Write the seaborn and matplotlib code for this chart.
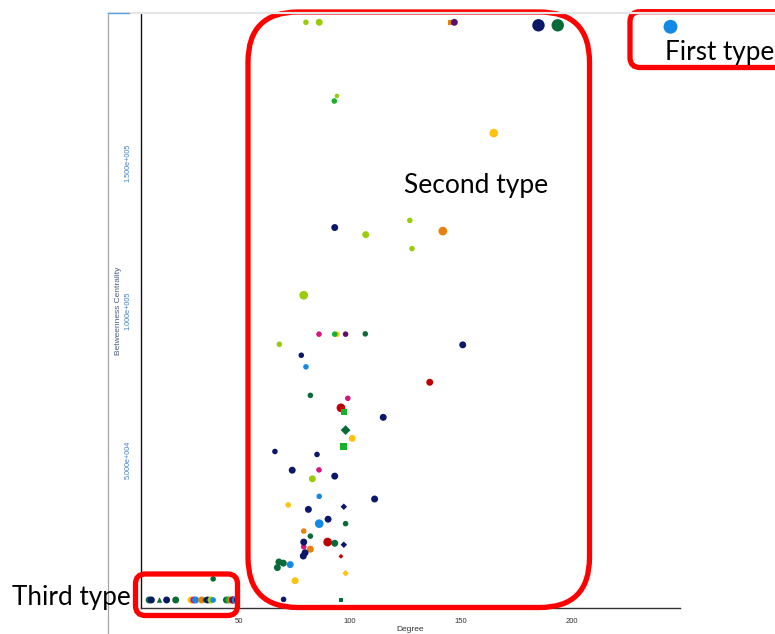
import matplotlib
matplotlib.use("Agg")
import matplotlib.pyplot as plt
from matplotlib.patches import FancyBboxPatch
from matplotlib.ticker import FixedLocator, FuncFormatter
import seaborn as sns
import pandas as pd

# ---- node data: degree, betweenness centrality, community colour, marker shape, node weight
degree = [
    244.7,
    80.1, 86.1, 145.3, 147.1, 185.1, 193.8,
    94.1, 92.9, 164.9,
    93.1, 107.1, 127.0, 141.9, 128.0, 79.1,
    86.0, 94.1, 93.1, 98.0, 106.9, 68.1, 150.9, 78.0, 80.1, 136.0,
    82.1, 99.0, 95.9, 97.2, 115.0, 98.0, 101.0, 97.0, 66.1, 85.1,
    73.9, 86.0, 83.0, 93.1, 86.1, 72.1, 97.2, 111.1, 81.2, 90.1,
    86.1, 98.0, 79.1, 82.1, 79.1, 79.1, 89.9, 93.1, 97.2, 82.1,
    79.7, 78.9, 95.9, 67.9, 69.9, 67.2, 73.0, 75.2, 98.0, 70.0, 95.9,
    9.3, 10.3, 14.0, 17.2, 21.3, 28.2, 29.4, 30.3, 33.0, 34.8, 35.7,
    37.2, 38.2, 38.2, 44.2, 45.3, 46.3, 46.9, 47.4, 48.2, 48.8,
]
betweenness = [
    195700,
    197200, 197200, 197200, 197200, 196200, 196200,
    172400, 170700, 159900,
    128100, 125700, 130500, 126900, 121000, 105300,
    92200, 92200, 92200, 92200, 92300, 88800, 88600, 85100, 81200, 76000,
    71600, 70600, 67400, 65900, 64200, 59900, 57100, 54300, 52700, 51700,
    46400, 46500, 43500, 44400, 37600, 34700, 34100, 36700, 33200, 29900,
    28400, 28400, 25900, 24200, 20600, 22200, 22200, 21800, 21300, 19800,
    18600, 17500, 17400, 15500, 15100, 13600, 14600, 9200, 11700, 2900, 2700,
    2700, 2700, 2700, 2700, 2700, 2700, 2700, 2700, 2700, 2700, 2700,
    2700, 2700, 9800, 2700, 2700, 2700, 2700, 2700, 2700, 2700,
]
community = [
    "blue",
    "lime", "lime", "orange", "purple", "navy", "dkgreen",
    "lime", "green", "yellow",
    "navy", "lime", "lime", "orange", "lime", "lime",
    "magenta", "yellow", "green", "purple", "dkgreen", "lime", "navy", "navy", "blue", "red",
    "dkgreen", "magenta", "red", "green", "navy", "dkgreen", "yellow", "green", "navy", "navy",
    "navy", "magenta", "lime", "navy", "blue", "yellow", "navy", "navy", "navy", "navy",
    "blue", "dkgreen", "orange", "dkgreen", "magenta", "navy", "red", "dkgreen", "navy", "orange",
    "navy", "navy", "red", "dkgreen", "dkgreen", "dkgreen", "blue", "yellow", "yellow", "navy", "dkgreen",
    "dkgreen", "navy", "dkgreen", "navy", "dkgreen", "yellow", "magenta", "blue", "orange", "dkgreen", "navy",
    "lime", "blue", "dkgreen", "dkgreen", "green", "orange", "red", "purple", "blue", "navy",
]
shape = [
    "circle",
    "circle", "circle", "square", "circle", "circle", "circle",
    "circle", "circle", "circle",
    "circle", "circle", "circle", "circle", "circle", "circle",
    "circle", "circle", "circle", "circle", "circle", "circle", "circle", "circle", "circle", "circle",
    "circle", "circle", "circle", "square", "circle", "diamond", "circle", "square", "circle", "circle",
    "circle", "circle", "circle", "circle", "circle", "circle", "diamond", "circle", "circle", "circle",
    "circle", "circle", "circle", "circle", "circle", "circle", "circle", "circle", "diamond", "circle",
    "circle", "circle", "diamond", "circle", "circle", "circle", "circle", "circle", "diamond", "circle", "square",
    "circle", "circle", "triangle", "circle", "circle", "circle", "circle", "circle", "circle", "circle", "circle",
    "circle", "circle", "circle", "circle", "circle", "circle", "circle", "circle", "circle", "circle",
]
weight = [
    6,
    2, 3, 2, 3, 5, 5,
    1, 2, 4,
    3, 3, 2, 4, 2, 4,
    2, 2, 2, 2, 2, 2, 3, 2, 2, 3,
    2, 2, 4, 2, 3, 3, 3, 3, 2, 2,
    3, 2, 3, 3, 2, 2, 1, 3, 3, 3,
    4, 2, 2, 2, 2, 3, 4, 3, 1, 3,
    3, 3, 0, 3, 3, 3, 3, 3, 1, 2, 1,
    3, 3, 2, 3, 3, 3, 3, 3, 3, 2, 3,
    3, 2, 2, 3, 3, 3, 3, 3, 3, 2,
]

x_ticks = list(range(10, 250, 10))
x_labels = [50, 100, 150, 200]
y_ticks = list(range(10000, 200001, 10000))
y_labels = [50000, 100000, 150000]

palette = {
    "navy": "#0b1768", "dkgreen": "#0a6b3a", "lime": "#9acc0a", "green": "#16b22a",
    "yellow": "#ffc20e", "orange": "#e8800c", "red": "#c00000", "magenta": "#d4167f",
    "purple": "#5a0f68", "blue": "#1389e6",
}
markers = {"circle": "o", "square": "s", "diamond": "D", "triangle": "^"}
# marker area in points^2 per node weight
sizes = {0: 6, 1: 11, 2: 16, 3: 25, 4: 39, 5: 80, 6: 100}

df = pd.DataFrame({
    "Degree": degree,
    "Betweenness Centrality": betweenness,
    "community": community,
    "shape": shape,
    "weight": weight,
})

sns.set_style("white")
plt.rcParams["font.family"] = ["Liberation Sans", "DejaVu Sans"]

W, H = 775, 634
fig = plt.figure(figsize=(W / 100, H / 100), dpi=100)
ax = fig.add_axes([140.5 / W, (H - 608) / H, (680 - 140.5) / W, (608 - 14) / H])

sns.scatterplot(
    data=df, x="Degree", y="Betweenness Centrality",
    hue="community", style="shape", size="weight",
    palette=palette, markers=markers, sizes=sizes,
    linewidth=0, legend=False, ax=ax, clip_on=False, zorder=3,
)

ax.set_xlim(5.4, 249)
ax.set_ylim(0, 200000)
ax.xaxis.set_major_locator(FixedLocator(x_ticks))
ax.yaxis.set_major_locator(FixedLocator(y_ticks))
ax.xaxis.set_major_formatter(FuncFormatter(
    lambda v, p: f"{int(round(v))}" if int(round(v)) in x_labels else ""))
ax.yaxis.set_major_formatter(FuncFormatter(
    lambda v, p: ("%.3e" % v).replace("e+0", "e+00") if int(round(v)) in y_labels else ""))

for side in ("top", "right"):
    ax.spines[side].set_visible(False)
ax.spines["left"].set_color("#111111")
ax.spines["bottom"].set_color("#333333")
ax.spines["left"].set_linewidth(1.0)
ax.spines["bottom"].set_linewidth(1.0)
ax.tick_params(axis="both", direction="out", length=3, width=0.8, colors="#333333")
ax.tick_params(axis="x", labelsize=5.5, pad=4, labelcolor="#333333")
ax.tick_params(axis="y", labelsize=5.2, pad=3.5, labelcolor="#3f7fc4")
for lab in ax.get_yticklabels():
    lab.set_rotation(90)
    lab.set_va("center")
ax.set_xlabel("Degree", fontsize=6, color="#333333", labelpad=1)
ax.set_ylabel("Betweenness Centrality", fontsize=6, color="#4a5a7a", labelpad=1.5)

# overlay in pixel units for window frame and callouts
ov = fig.add_axes([0, 0, 1, 1], facecolor="none")
ov.set_xlim(0, W)
ov.set_ylim(H, 0)
ov.axis("off")
ov.plot([108, 108], [12, H], color="#a6a6a6", lw=0.9)
ov.plot([108, W], [13, 13], color="#e6e6e6", lw=1.6)
ov.plot([108, 129], [12.5, 12.5], color="#5aa2e6", lw=1.0)

red = "#ff0000"
for (x0, y0, x1, y1, r) in [(248, 12, 589.5, 607.5, 50),
                            (135.5, 574, 237.5, 615.5, 10),
                            (630, 11.7, 800, 67.5, 10)]:
    ov.add_patch(FancyBboxPatch((x0, y0), x1 - x0, y1 - y0,
                                boxstyle=f"round,pad=0,rounding_size={r}",
                                fill=False, edgecolor=red, lw=3.8, clip_on=False))

txt = dict(family=["Lato", "DejaVu Sans"], color="black", va="baseline", ha="left")
ov.text(404, 193, "Second type", fontsize=19, **txt)
ov.text(665, 60, "First type", fontsize=18.8, **txt)
ov.text(11.5, 605, "Third type", fontsize=18.8, **txt)

fig.savefig("out.png", dpi=100)
